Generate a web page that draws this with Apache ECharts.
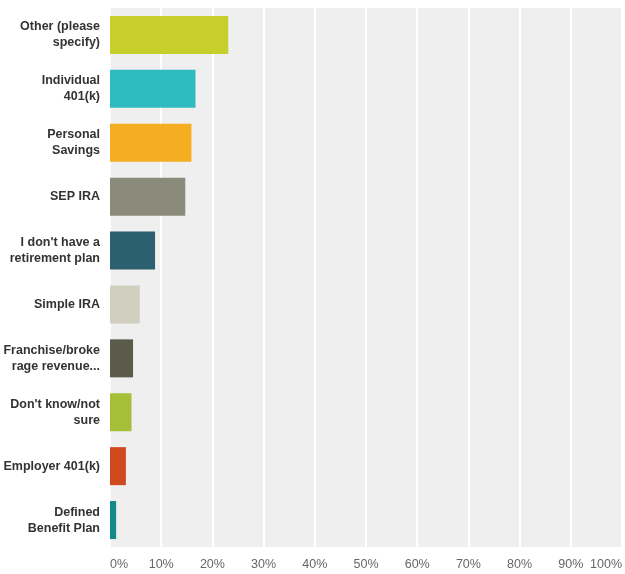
<!DOCTYPE html>
<html><head><meta charset="utf-8">
<script src="https://cdn.jsdelivr.net/npm/echarts@6/dist/echarts.min.js"></script>
<style>html,body{margin:0;padding:0;background:#fff}#c{width:625px;height:574px}</style>
</head><body><div id="c"></div>
<script>
const categories = ["Other (please\nspecify)", "Individual\n401(k)", "Personal\nSavings", "SEP IRA", "I don't have a\nretirement plan", "Simple IRA", "Franchise/broke\nrage revenue...", "Don't know/not\nsure", "Employer 401(k)", "Defined\nBenefit Plan"];
const values = [23.1, 16.7, 15.9, 14.7, 8.8, 5.8, 4.5, 4.2, 3.1, 1.2];
const colors = ["#c6cf2c", "#2fbcc0", "#f5ad22", "#8a8b7b", "#2c5f6f", "#d1cfc0", "#5b5b4c", "#a7bf38", "#d1491e", "#14898a"];
const xTicks = [0, 10, 20, 30, 40, 50, 60, 70, 80, 90, 100];

const chart = echarts.init(document.getElementById('c'), null, {renderer: 'canvas'});
chart.setOption({
  animation: false,
  backgroundColor: '#ffffff',
  grid: {left: 110, right: 2, top: 8, bottom: 27, show: true, backgroundColor: '#efefef', borderWidth: 0},
  xAxis: {
    type: 'value', min: xTicks[0], max: xTicks[xTicks.length - 1], interval: xTicks[1] - xTicks[0],
    axisLine: {show: false}, axisTick: {show: false},
    splitLine: {show: true, lineStyle: {color: '#ffffff', width: 2}},
    axisLabel: {formatter: '{value}%', color: '#666', fontFamily: 'Liberation Sans, Arial, sans-serif', fontSize: 12.5, margin: 11, alignMinLabel: 'left', alignMaxLabel: 'right'}
  },
  yAxis: {
    type: 'category', data: categories, inverse: true,
    axisLine: {show: false}, axisTick: {show: false}, splitLine: {show: false},
    axisLabel: {color: '#333', fontWeight: 'bold', fontFamily: 'Liberation Sans, Arial, sans-serif', fontSize: 12.5, lineHeight: 16, margin: 10, align: 'right'}
  },
  series: [{
    type: 'bar', data: values.map((v, i) => ({value: v, itemStyle: {color: colors[i]}})),
    barWidth: 38
  }]
});
</script></body></html>
